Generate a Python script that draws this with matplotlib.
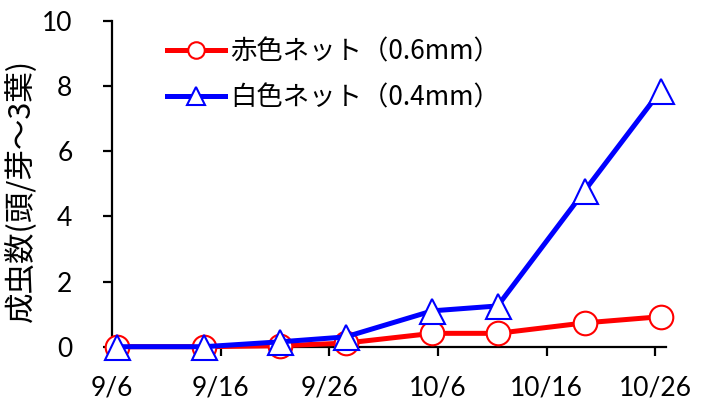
import matplotlib
matplotlib.use("Agg")
import matplotlib.pyplot as plt
import datetime as dt

# ---- data ----
dates = ['9/6', '9/14', '9/21', '9/27', '10/5', '10/11', '10/19', '10/26']
red_net = [0.0, 0.0, 0.03, 0.11, 0.41, 0.41, 0.73, 0.92]
white_net = [0.0, 0.0, 0.15, 0.30, 1.10, 1.25, 4.78, 7.85]
tick_labels = ['9/6', '9/16', '9/26', '10/6', '10/16', '10/26']
yticks = [0, 2, 4, 6, 8, 10]
series_names = ['赤色ネット（0.6mm）', '白色ネット（0.4mm）']
ylabel = '成虫数(頭/芽～3葉)'

def day_offset(s, base='9/6'):
    m, d = map(int, s.split('/'))
    bm, bd = map(int, base.split('/'))
    return (dt.date(2020, m, d) - dt.date(2020, bm, bd)).days

# Excel-style date axis: each point sits in the middle of its day slot
xs = [day_offset(d) + 0.5 for d in dates]
xt = [day_offset(t) for t in tick_labels]

cjk = ['Noto Sans CJK JP', 'DejaVu Sans']
plt.rcParams['font.family'] = cjk

fig = plt.figure(figsize=(7.01, 4.03), dpi=100)
ax = fig.add_axes([112/701, 1-346.7/403, (666-112)/701, (346.7-20.7)/403])

ax.plot(xs, red_net, color='#FF0000', lw=3.6, marker='o', ms=17,
        mfc='white', mec='#FF0000', mew=1.5, clip_on=False, zorder=3,
        label=series_names[0])
ax.plot(xs, white_net, color='#0000FF', lw=3.6, marker='^', ms=18,
        mfc='white', mec='#0000FF', mew=1.5, clip_on=False, zorder=4,
        label=series_names[1])

ax.set_xlim(0, 51)
ax.set_ylim(0, 10)
ax.set_xticks(xt)
ax.set_xticklabels(tick_labels)
ax.set_yticks(yticks)
ax.set_yticklabels([str(v) for v in yticks])
for lab in ax.get_xticklabels() + ax.get_yticklabels():
    lab.set_family(['Lato', 'DejaVu Sans'])
    lab.set_fontsize(19)

for s in ['top', 'right']:
    ax.spines[s].set_visible(False)
for s in ['left', 'bottom']:
    ax.spines[s].set_linewidth(1.6)
    ax.spines[s].set_color('black')
ax.tick_params(axis='both', direction='out', length=6.5, width=1.6, color='black')
ax.tick_params(axis='y', pad=22)
ax.tick_params(axis='x', pad=14)
ax.xaxis.get_major_ticks()[0].tick1line.set_visible(False)

fig.text(20/701, 1-190/403, ylabel, rotation=90, ha='center', va='center',
         fontsize=22, family=cjk)

leg = ax.legend(loc='upper left', bbox_to_anchor=(167/701, 1-38/403),
                bbox_transform=fig.transFigure, frameon=False, fontsize=19,
                handlelength=2.2, handletextpad=0.2, labelspacing=0.72,
                borderpad=0, borderaxespad=0, markerscale=0.7, numpoints=1)

fig.savefig('out.png', dpi=100, facecolor='white')
